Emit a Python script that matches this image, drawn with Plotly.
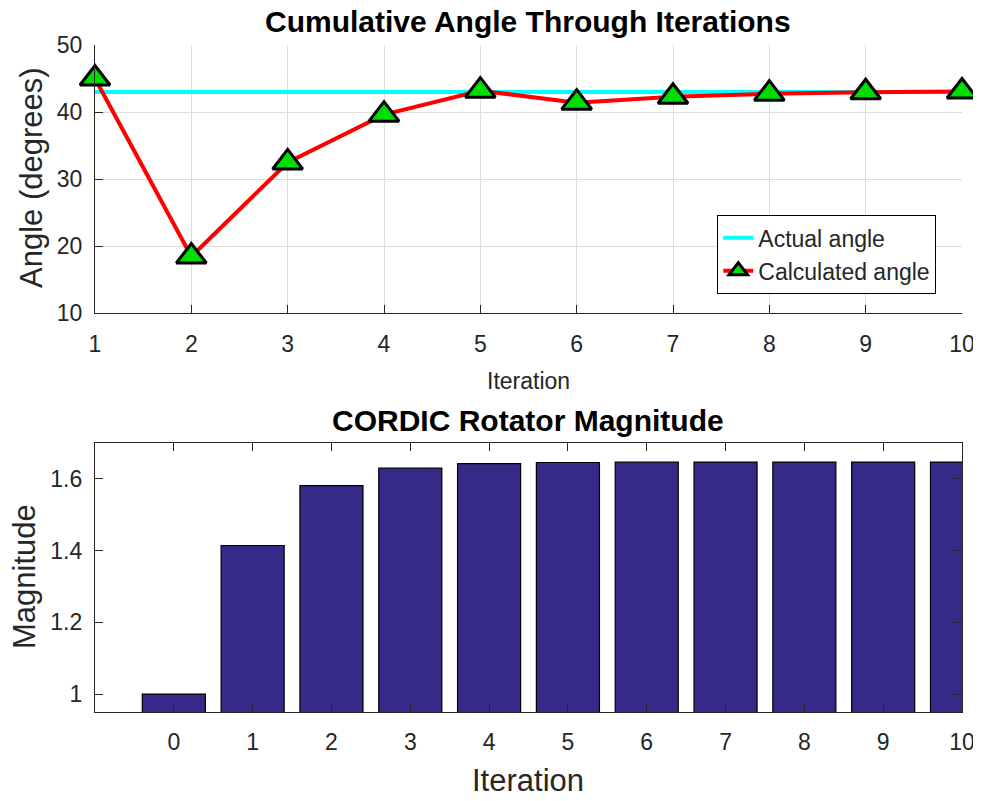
import plotly.graph_objects as go

# --- data ---
iterations = [1, 2, 3, 4, 5, 6, 7, 8, 9, 10]
calc_angle = [45.0, 18.43, 32.47, 39.60, 43.18, 41.39, 42.28, 42.73, 42.95, 43.06]
actual_angle = [43.0] * len(iterations)

mag_iter = [0, 1, 2, 3, 4, 5, 6, 7, 8, 9, 10]
magnitude = [1.0, 1.4142, 1.5811, 1.6298, 1.6425, 1.6457, 1.6465, 1.6467, 1.6468, 1.6468, 1.6468]

# page body adds an 8px margin, so the figure is shrunk and shifted by that
OFF = 8
W, H = 981 - OFF, 801 - OFF
FONT = "Liberation Sans"
AX = "#262626"

def px_x(p):
    return (p - OFF) / W

def px_y(p):
    return 1 - (p - OFF) / H

fig = go.Figure()

# top: angle trace
fig.add_trace(go.Scatter(
    x=iterations, y=actual_angle, mode="lines",
    line=dict(color="#00FFFF", width=4),
    name="Actual angle", xaxis="x", yaxis="y"))
fig.add_trace(go.Scatter(
    x=iterations, y=calc_angle, mode="lines+markers",
    line=dict(color="#FF0000", width=4),
    marker=dict(symbol="triangle-up", size=26, color="#00DD00",
                line=dict(color="black", width=3)),
    name="Calculated angle", xaxis="x", yaxis="y", cliponaxis=False))

# bottom: magnitude bars
fig.add_trace(go.Bar(
    x=mag_iter, y=magnitude, width=0.8,
    marker=dict(color="#352A87", line=dict(color="black", width=1.2)),
    showlegend=False, xaxis="x2", yaxis="y2"))

x_dom = [px_x(95), px_x(962)]
tick_font = dict(family=FONT, size=23, color=AX)
common = dict(automargin=False, showline=True, linecolor=AX, linewidth=1.3,
              ticks="inside", ticklen=8, tickcolor=AX, tickfont=tick_font,
              zeroline=False, ticklabeloverflow="allow")

fig.update_layout(
    width=W, height=H,
    paper_bgcolor="white", plot_bgcolor="white",
    margin=dict(l=0, r=0, t=0, b=0),
    font=dict(family=FONT, color=AX),
    bargap=0.2,
    xaxis=dict(domain=x_dom, range=[1, 10], tickvals=iterations,
               anchor="y", showgrid=True, gridcolor="#DCDCDC", gridwidth=1,
               ticklabelstandoff=10, **common),
    yaxis=dict(domain=[px_y(313), px_y(45)], range=[10, 50],
               tickvals=[10, 20, 30, 40, 50], anchor="x",
               showgrid=True, gridcolor="#DCDCDC", gridwidth=1,
               ticklabelstandoff=7, **common),
    xaxis2=dict(domain=x_dom, range=[-1, 10], tickvals=mag_iter,
                anchor="y2", showgrid=False, mirror="ticks",
                ticklabelstandoff=9, **common),
    yaxis2=dict(domain=[px_y(712), px_y(443)], range=[0.95, 1.7],
                tickvals=[1, 1.2, 1.4, 1.6], ticktext=["1", "1.2", "1.4", "1.6"],
                anchor="x2", showgrid=False, mirror="ticks",
                ticklabelstandoff=7, **common),
    legend=dict(x=px_x(936), xanchor="right", y=px_y(215), yanchor="top",
                bgcolor="white", bordercolor="black", borderwidth=1.3,
                font=dict(family=FONT, size=23, color=AX),
                tracegroupgap=0),
)

# titles and axis labels
ann = [
    dict(text="<b>Cumulative Angle Through Iterations</b>", x=px_x(528), y=px_y(21),
         font=dict(size=30, color="black")),
    dict(text="Iteration", x=px_x(528), y=px_y(381), font=dict(size=23, color=AX)),
    dict(text="Angle (degrees)", x=px_x(31), y=px_y(178), textangle=-90,
         font=dict(size=31, color=AX)),
    dict(text="<b>CORDIC Rotator Magnitude</b>", x=px_x(528), y=px_y(420),
         font=dict(size=30, color="black")),
    dict(text="Iteration", x=px_x(528), y=px_y(780), font=dict(size=31, color=AX)),
    dict(text="Magnitude", x=px_x(24), y=px_y(577), textangle=-90,
         font=dict(size=31, color=AX)),
]
for a in ann:
    fig.add_annotation(xref="paper", yref="paper", showarrow=False,
                       xanchor="center", yanchor="middle",
                       font_family=FONT, **a)

fig.write_html("out.html")
